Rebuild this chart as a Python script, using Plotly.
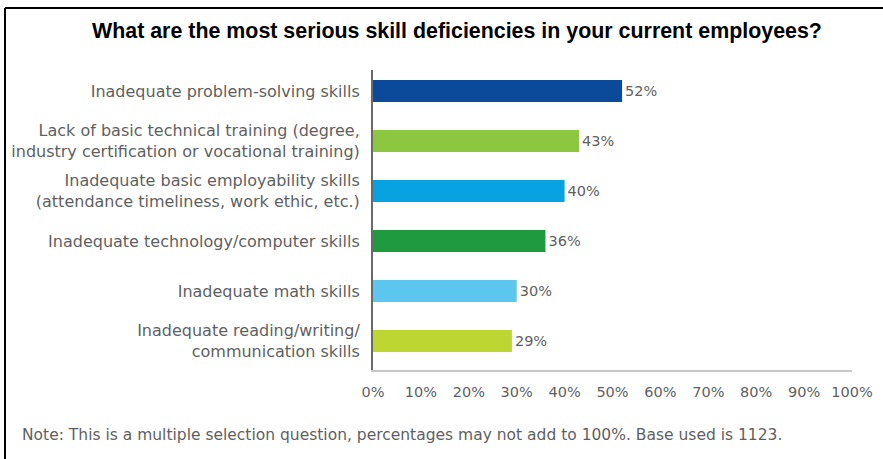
import plotly.graph_objects as go

categories = [
    "Inadequate problem-solving skills",
    "Lack of basic technical training (degree,<br>industry certification or vocational training)",
    "Inadequate basic employability skills<br>(attendance timeliness, work ethic, etc.)",
    "Inadequate technology/computer skills",
    "Inadequate math skills",
    "Inadequate reading/writing/<br>communication skills",
]
values = [52, 43, 40, 36, 30, 29]
bar_colors = ["#0B4A9B", "#8DC63F", "#06A3E0", "#1F9A3E", "#5CC6EE", "#BDD631"]
x_ticks = [0, 10, 20, 30, 40, 50, 60, 70, 80, 90, 100]
x_tick_labels = [f"{t}%" for t in x_ticks]

title_text = "What are the most serious skill deficiencies in your current employees?"
note_text = "Note: This is a multiple selection question, percentages may not add to 100%. Base used is 1123."

W, H = 883, 459
L, R, T, B = 373, 31, 70, 89
FONT = "DejaVu Sans"
GRAY = "#5f5f5f"

fig = go.Figure()
fig.add_trace(go.Bar(
    x=values, y=categories, orientation="h",
    marker=dict(color=bar_colors, line=dict(width=0)),
    text=[f"{v}%" for v in values], textposition="outside",
    textfont=dict(family=FONT, size=14.5, color=GRAY),
    cliponaxis=False, hoverinfo="skip",
))

pw = W - L - R
ph = H - T - B
def px(x):
    return (x - L) / pw
def py(y):
    return (H - B - y) / ph

fig.update_layout(
    width=W, height=H,
    margin=dict(l=L, r=R, t=T, b=B, autoexpand=False),
    paper_bgcolor="white", plot_bgcolor="white",
    bargap=0.56, showlegend=False,
    font=dict(family=FONT, color=GRAY),
    xaxis=dict(range=[0, 100], tickmode="array", tickvals=x_ticks, ticktext=x_tick_labels,
               showgrid=False, zeroline=False, showline=True,
               linecolor="#c8c8c8", linewidth=2,
               ticks="outside", ticklen=8, tickcolor="rgba(0,0,0,0)",
               tickfont=dict(family=FONT, size=14.5, color=GRAY)),
    yaxis=dict(range=[5.58, -0.42], showgrid=False, zeroline=False,
               showline=True, linecolor="#6a6a6a", linewidth=2,
               ticks="outside", ticklen=8, tickcolor="rgba(0,0,0,0)",
               tickfont=dict(family=FONT, size=16, color=GRAY)),
    annotations=[
        dict(text="<b>" + title_text + "</b>", xref="paper", yref="paper",
             x=px(457), y=py(31), xanchor="center", yanchor="middle",
             showarrow=False, font=dict(family="Liberation Sans", size=21.4, color="black")),
        dict(text=note_text, xref="paper", yref="paper",
             x=px(20), y=py(435), xanchor="left", yanchor="middle",
             showarrow=False, font=dict(family=FONT, size=15.5, color=GRAY)),
    ],
    shapes=[
        dict(type="line", xref="paper", yref="paper", x0=px(5), x1=px(5),
             y0=py(470), y1=py(8), line=dict(color="black", width=2)),
        dict(type="line", xref="paper", yref="paper", x0=px(5), x1=px(900),
             y0=py(8), y1=py(8), line=dict(color="black", width=2)),
    ],
)

fig.write_html("out.html")
